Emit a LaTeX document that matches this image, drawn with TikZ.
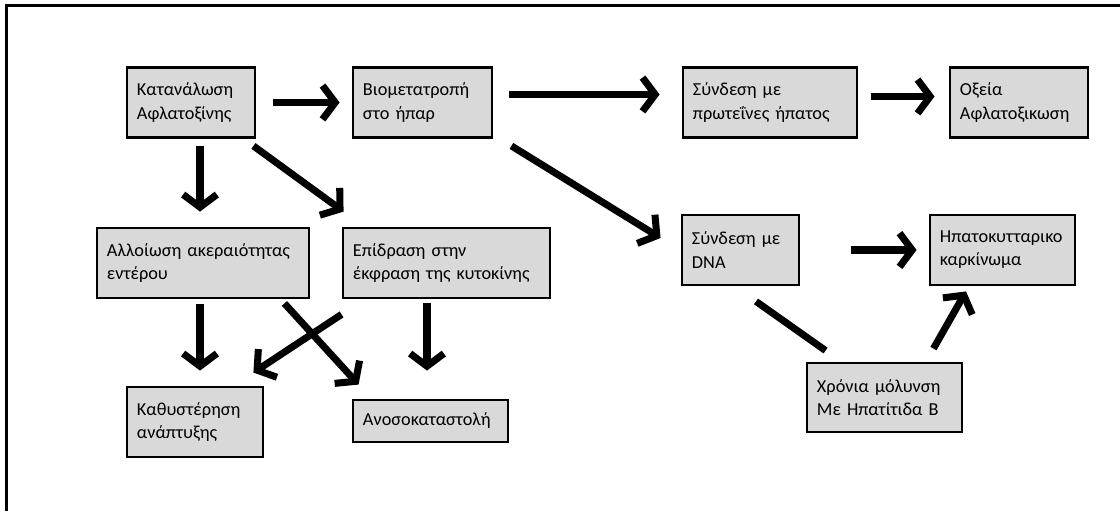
\documentclass[tikz,border=0pt]{standalone}
\usepackage{fontspec}
\setmainfont{Carlito}
\usetikzlibrary{arrows.meta,calc}
\definecolor{boxgray}{RGB}{217,217,217}
\begin{document}
\begin{tikzpicture}[x=0.025cm,y=-0.025cm,
        boite/.style={draw,line width=2pt,fill=boxgray,align=left,inner xsep=0.25cm,
            minimum height=1.75cm,font=\fontsize{13}{16.5}\selectfont},
        fleche/.style={line width=5pt,-{Straight Barb[length=9pt,width=24pt]}},
        trait/.style={line width=5pt}]
        \useasboundingbox (0,0) rectangle (1120,511);
        \draw[line width=1.5pt] (6.5,511) -- (6.5,5.5) -- (1120,5.5);
        \node[boite,text width=2.7cm] (kat) at (191,102.5) {Κατανάλωση\\Αφλατοξίνης};
        \node[boite,text width=2.975cm] (bio) at (422.5,102.5) {Βιομετατροπή\\στο ήπαρ};
        \node[boite,text width=3.85cm] (prot) at (770,102.5) {Σύνδεση με\\πρωτεΐνες ήπατος};
        \node[boite,text width=2.95cm] (oxe) at (1019,102.5) {Οξεία\\Αφλατοξικωση};
        \node[boite,text width=4.8cm] (alloi) at (203,263) {Αλλοίωση ακεραιότητας\\εντέρου};
        \node[boite,text width=4.675cm] (epid) at (446.5,263) {Επίδραση στην\\έκφραση της κυτοκίνης};
        \node[boite,text width=2.9cm] (kath) at (195,422) {Καθυστέρηση\\ανάπτυξης};
        \node[boite,text width=3.375cm,minimum height=1.05cm] (anos) at (430.5,421) {Ανοσοκαταστολή};
        \node[boite,text width=2.425cm] (dna) at (740.5,250) {Σύνδεση με\\DNA};
        \node[boite,text width=3.125cm] (hep) at (1002.5,250) {Ηπατοκυτταρικο\\καρκίνωμα};
        \node[boite,text width=3.375cm,minimum height=1.725cm] (chron) at (884.5,397.5) {Χρόνια μόλυνση\\Με Ηπατίτιδα Β};
        \draw[fleche] ($(kat.east)+(17,0)$) -- ($(bio.west)+(-12,0)$);
        \draw[fleche] ($(bio.east)+(16,-8)$) -- ($(prot.west)+(-22,-8)$);
        \draw[fleche] ($(prot.east)+(13,-6)$) -- ($(oxe.west)+(-14,-6)$);
        \draw[fleche] ($(kat.south)+(9,7)$) -- ($(alloi.north)+(-3,-15)$);
        \draw[fleche] ($(kat.south east)+(-3,7)$) -- ($(epid.north west)+(2,-15)$);
        \draw[fleche] ($(bio.south east)+(18,7)$) -- ($(dna.west)+(-20,-12)$);
        \draw[fleche] ($(alloi.south)+(-3,5)$) -- ($(kath.north)+(5,-15)$);
        \draw[fleche] ($(alloi.south east)+(-26,4)$) -- ($(anos.north west)+(7,-14)$);
        \draw[fleche] ($(epid.south west)+(0,15)$) -- ($(kath.north east)+(-11,-13)$);
        \draw[fleche] ($(epid.south)+(-19.5,4)$) -- ($(anos.north)+(-3.5,-28)$);
        \draw[fleche] ($(dna.east)+(51,0)$) -- ($(hep.west)+(-12,0)$);
        \draw[trait] ($(dna.south)+(15.5,15)$) -- ($(chron.north west)+(20,-11)$);
        \draw[fleche] ($(chron.north east)+(-30,-13)$) -- ($(hep.south)+(-36.5,5)$);
    \end{tikzpicture}
\end{document}
